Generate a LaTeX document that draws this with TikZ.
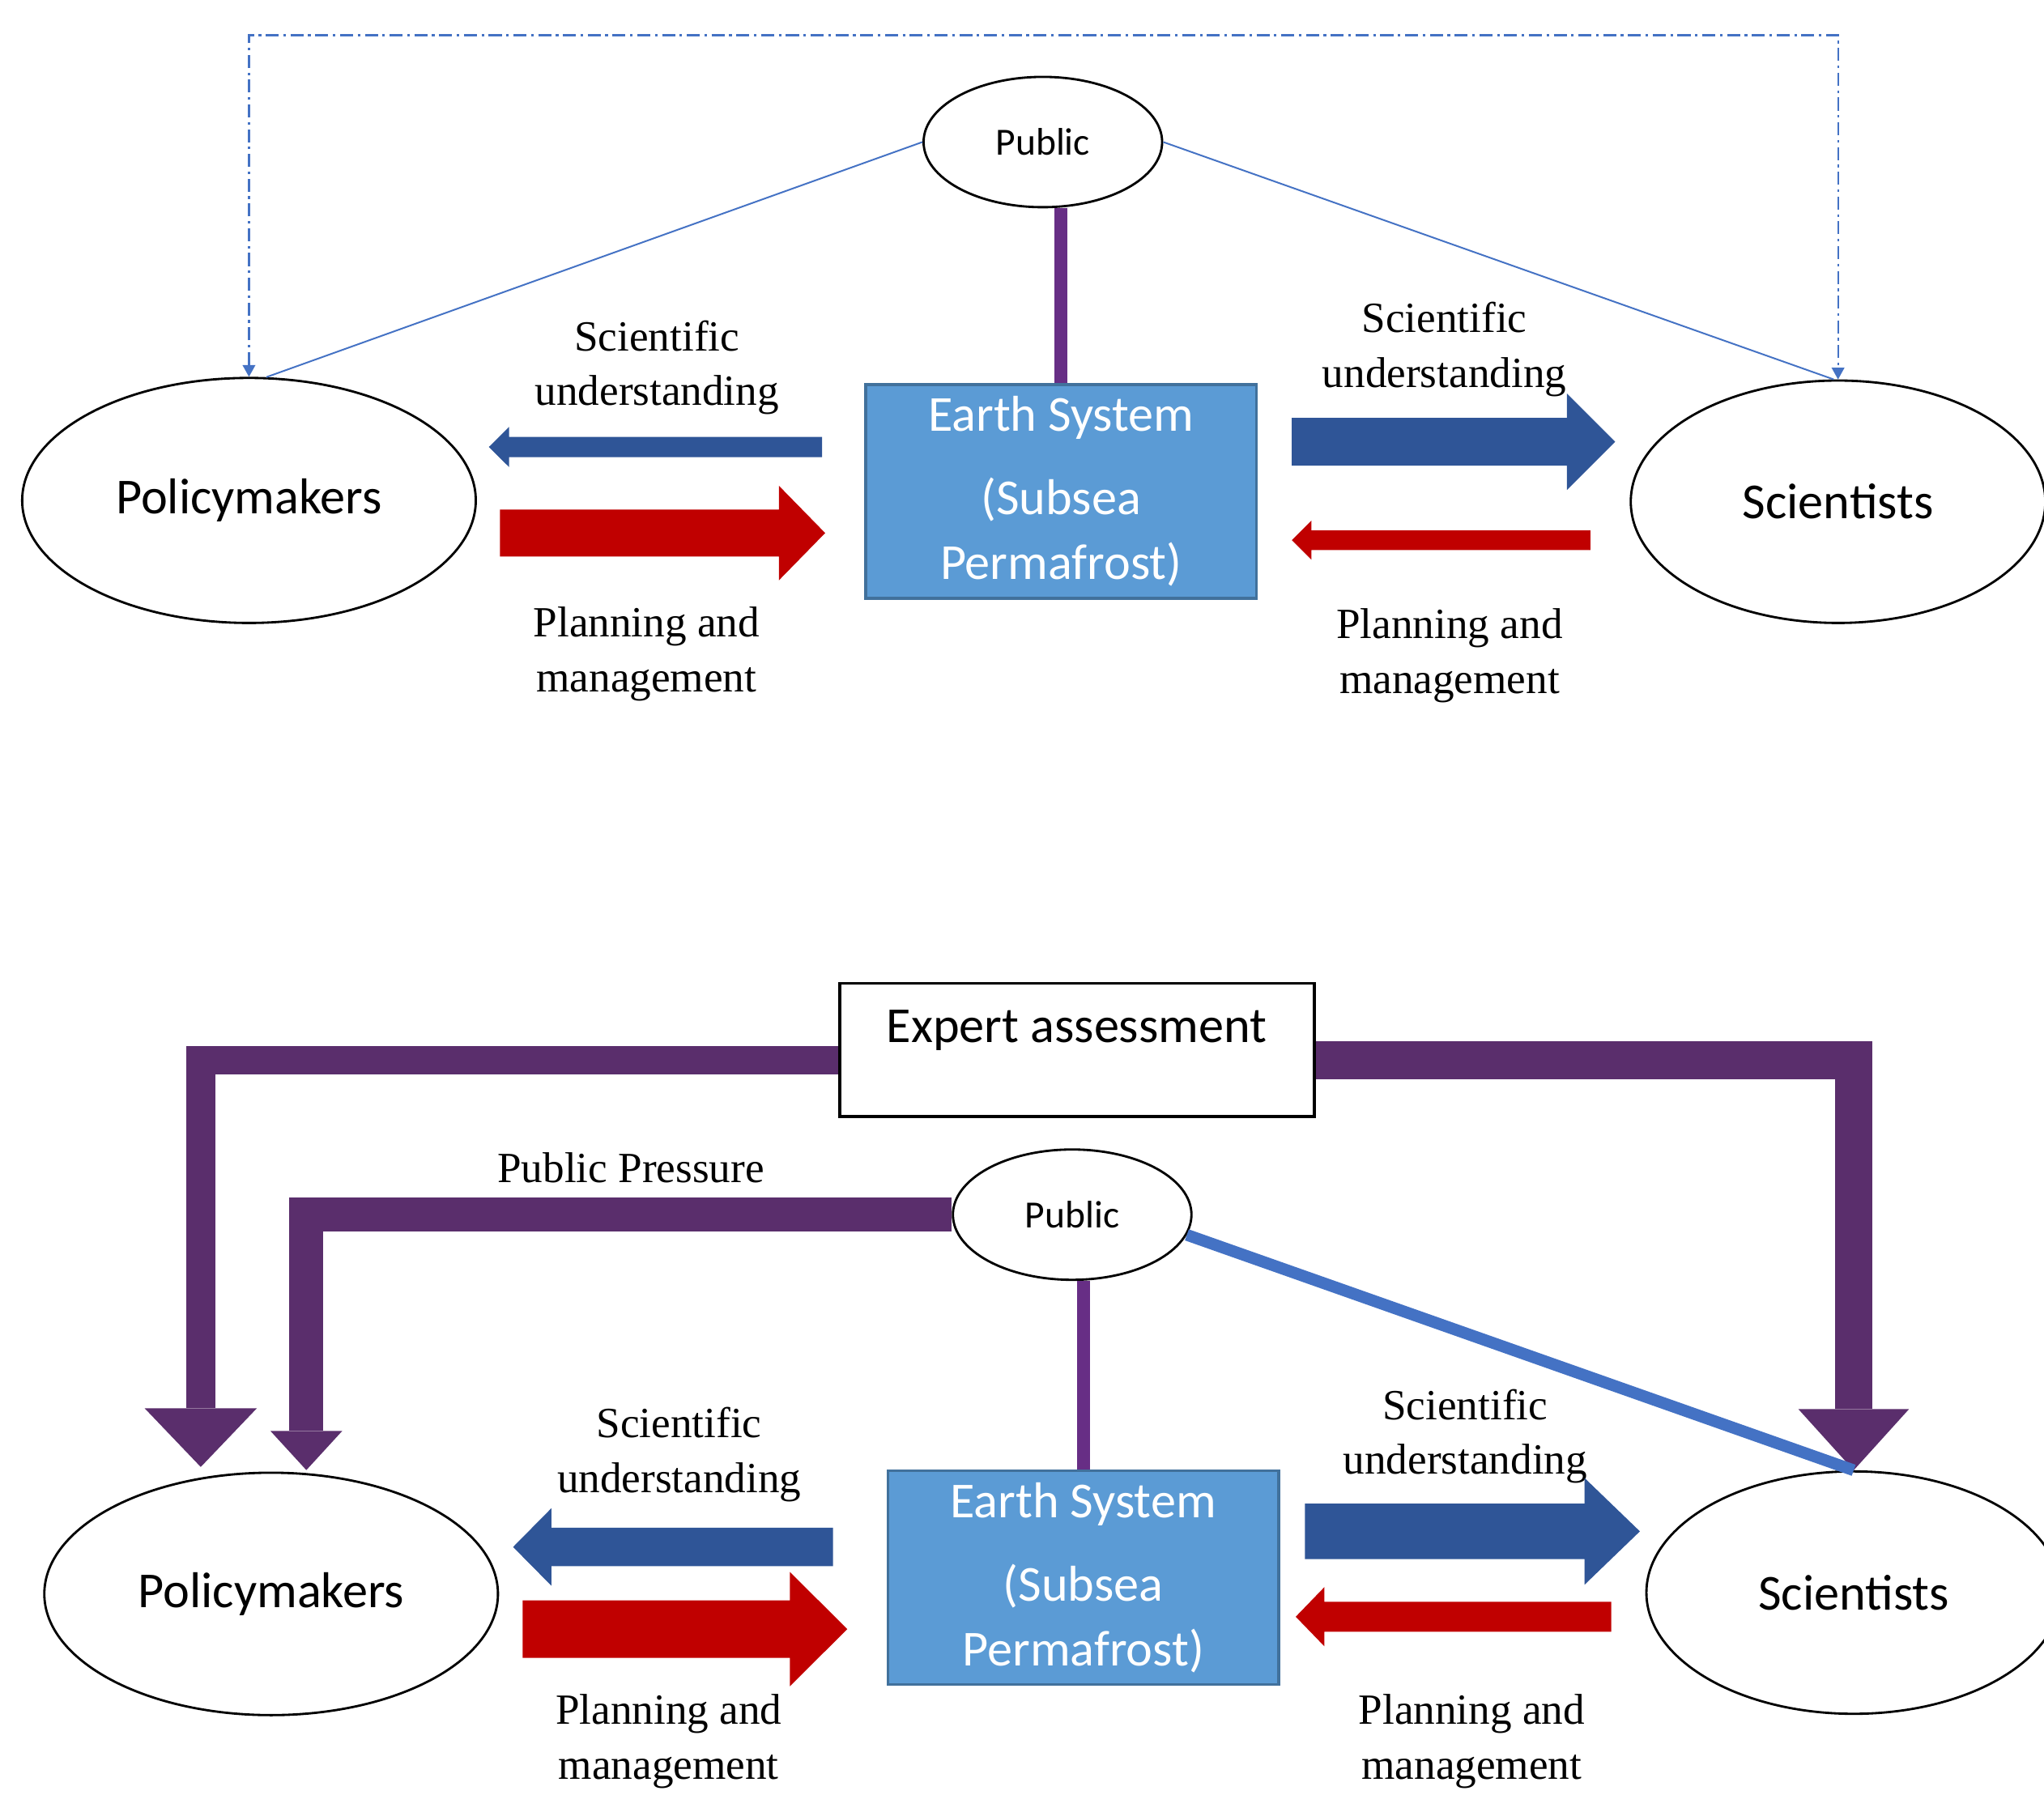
\documentclass[tikz,border=0pt]{standalone}
\usepackage{fontspec}
\setmainfont{Liberation Serif}
\newfontfamily\calibri{Carlito}
\usetikzlibrary{shapes.geometric,arrows.meta}
\definecolor{sciblue}{HTML}{2F5597}
\definecolor{planred}{HTML}{C00000}
\definecolor{linkblue}{HTML}{4472C4}
\definecolor{tiepurple}{HTML}{672E85}
\definecolor{bentpurple}{HTML}{5A2E6C}
\definecolor{earthfill}{HTML}{5B9BD5}
\definecolor{earthedge}{HTML}{41719C}

\begin{document}
\begin{tikzpicture}[x=0.1mm, y=-0.1mm,
  actor/.style={ellipse, draw, line width=0.5pt, fill=white, inner sep=0pt,
    font=\calibri\fontsize{11}{13}\selectfont},
  pubnode/.style={ellipse, draw, line width=0.5pt, fill=white, inner sep=0pt,
    minimum width=18.3mm, minimum height=10mm, font=\calibri\fontsize{8.4}{10}\selectfont},
  earthbox/.style={draw=earthedge, fill=earthfill, line width=0.6pt, inner sep=0pt,
    minimum width=30mm, minimum height=16.4mm, text=white, align=center,
    font=\calibri\fontsize{11}{14.2}\selectfont},
  flowlabel/.style={align=center, font=\fontsize{9.4}{11.95}\selectfont},
  thinlink/.style={draw=linkblue, line width=0.35pt},
  tie/.style={draw=tiepurple, line width=1mm},
  bent/.style={color=bentpurple}]
\useasboundingbox (0,0) rectangle (1568,1377);

% top panel
\node[actor, minimum width=34.8mm, minimum height=18.8mm] (pol1) at (191,384) {Policymakers};
\node[actor, minimum width=31.8mm, minimum height=18.6mm] (sci1) at (1410,385) {Scientists};
\node[pubnode] (pub1) at (800,109) {Public};
\node[earthbox] (earth1) at (814,377) {Earth System\\[1.4mm](Subsea\\Permafrost)};
\node[flowlabel] (sciL1) at (504,282) {Scientific\\understanding};
\node[flowlabel] (planL1) at (496,502) {Planning and\\management};
\node[flowlabel] (sciR1) at (1108,268) {Scientific\\understanding};
\node[flowlabel] (planR1) at (1112,503) {Planning and\\management};
\coordinate (dashtop) at (800,27);
\draw[linkblue, line width=0.4pt, dash pattern=on 1mm off 0.35mm on 0.2mm off 0.35mm,
  {Triangle[width=1mm,length=0.9mm,line width=0pt]}-{Triangle[width=1mm,length=0.9mm,line width=0pt]}]
  (pol1.north) |- (dashtop) -| (sci1.north);
\draw[thinlink] (pub1.west) -- (pol1.82);
\draw[thinlink] (pub1.east) -- (sci1.92);
\draw[tie] (earth1.north) -- (earth1.north |- pub1.south);

% bottom panel
\node[actor, minimum width=34.8mm, minimum height=18.6mm] (pol2) at (208,1223) {Policymakers};
\node[actor, minimum width=31.8mm, minimum height=18.6mm] (sci2) at (1422,1222) {Scientists};
\node[pubnode] (pub2) at (822.5,932) {Public};
\node[earthbox] (earth2) at (831,1210.6) {Earth System\\[1.4mm](Subsea\\Permafrost)};
\node[draw, line width=0.7pt, inner sep=0pt, minimum width=36.4mm, minimum height=10.2mm,
  text depth=3.6mm, font=\calibri\fontsize{11}{13}\selectfont] (expert) at (826,805.5) {Expert assessment};
\node[flowlabel] (pressure) at (484,896) {Public Pressure};
\node[flowlabel] (sciL2) at (521,1116) {Scientific\\understanding};
\node[flowlabel] (planL2) at (513,1336) {Planning and\\management};
\node[flowlabel] (sciR2) at (1124,1102) {Scientific\\understanding};
\node[flowlabel] (planR2) at (1129,1336) {Planning and\\management};
\coordinate (expertTipL) at (154,1125.6);
\coordinate (pressTip) at (235,1128);
\draw[bent, line width=2.2mm, -{Triangle[width=8.6mm,length=4.5mm,line width=0pt]}]
  ([yshift=-0.8mm]expert.west) -| (expertTipL);
\draw[bent, line width=2.9mm, -{Triangle[width=8.5mm,length=4.7mm,line width=0pt]}]
  ([yshift=-0.8mm]expert.east) -| (sci2.north);
\draw[bent, line width=2.6mm, -{Triangle[width=5.5mm,length=3mm,line width=0pt]}]
  (pub2.west) -| (pressTip);
\draw[tie] (earth2.north) -- (earth2.north |- pub2.south);
\draw[draw=linkblue, line width=0.9mm] (pub2.-10) -- (sci2.north);

% block arrows: start/head base/tip/y/shaft/head width
\foreach \xa/\xbase/\xb/\yy/\shaft/\headw/\col in {
  630.6/390.5/375/343/15.6/30.7/sciblue, 383.5/597.5/633/409/36/72.6/planred,
  991/1202/1239/339/36.7/74/sciblue, 1220/1006/991/414.5/15/30/planred,
  639/423/393.6/1187/29.5/59.5/sciblue, 401/606/650/1250/44/87.5/planred,
  1001/1215.5/1258/1175/42.7/82/sciblue, 1236/1016/994/1240.5/23/45.5/planred}
  \fill[color=\col] (\xa,\yy-\shaft/2) -- (\xbase,\yy-\shaft/2) -- (\xbase,\yy-\headw/2)
    -- (\xb,\yy) -- (\xbase,\yy+\headw/2) -- (\xbase,\yy+\shaft/2) -- (\xa,\yy+\shaft/2) -- cycle;
\end{tikzpicture}
\end{document}
